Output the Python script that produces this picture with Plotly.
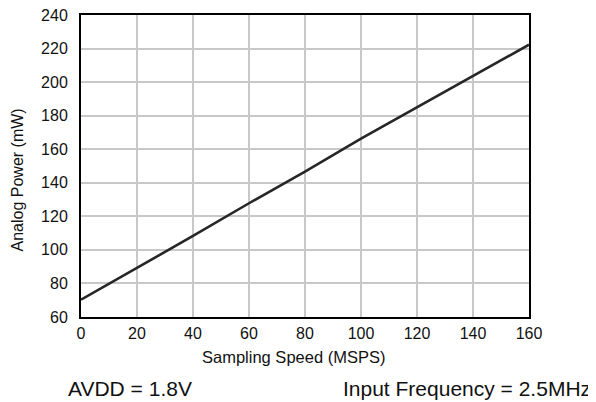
import plotly.graph_objects as go

speed_msps = [0, 20, 40, 60, 80, 100, 120, 140, 160]
power_mw = [70.3, 89.1, 108.3, 127.8, 146.6, 166.3, 185.0, 204.0, 222.3]

x_ticks = [0, 20, 40, 60, 80, 100, 120, 140, 160]
y_ticks = [60, 80, 100, 120, 140, 160, 180, 200, 220, 240]

FONT = "Liberation Sans, Arial, sans-serif"

# page body has an 8px margin; compensate so the plot lands where the reference has it
W, H = 588, 394
L, R, T, B = 73, 67, 7, 85
plot_w = W - L - R
plot_h = H - T - B
PX0, PY1 = 81, 317  # page coords of plot left / bottom


def px(xp):
    return (xp - PX0) / plot_w


def py(yp):
    return (PY1 - yp) / plot_h


fig = go.Figure()
fig.add_trace(go.Scatter(x=speed_msps, y=power_mw, mode="lines",
                         line=dict(color="#262626", width=2.6), showlegend=False,
                         cliponaxis=False))

fig.update_layout(
    width=W, height=H,
    margin=dict(l=L, r=R, t=T, b=B, autoexpand=False),
    paper_bgcolor="white", plot_bgcolor="white",
    font=dict(family=FONT, color="#111111"),
    xaxis=dict(range=[0, 160], tickvals=x_ticks, showgrid=True, automargin=False,
               gridcolor="#c8c8c8", gridwidth=1.5, showline=True, linecolor="black",
               linewidth=2, mirror=True, ticks="", zeroline=False,
               ticklabelstandoff=1, ticklabeloverflow="allow",
               tickfont=dict(size=16, family=FONT)),
    yaxis=dict(range=[60, 240], tickvals=y_ticks, showgrid=True, automargin=False,
               gridcolor="#c8c8c8", gridwidth=1.5, showline=True, linecolor="black",
               linewidth=2, mirror=True, ticks="", zeroline=False,
               ticklabelstandoff=8, ticklabeloverflow="allow",
               tickfont=dict(size=16, family=FONT)),
    annotations=[
        dict(text="Sampling Speed (MSPS)", xref="paper", yref="paper", x=px(293), y=py(357),
             xanchor="center", yanchor="middle", showarrow=False, font=dict(size=16.5, family=FONT)),
        dict(text="Analog Power (mW)", xref="paper", yref="paper", x=px(16.5), y=py(180),
             xanchor="center", yanchor="middle", showarrow=False, textangle=-90,
             font=dict(size=16, family=FONT)),
        dict(text="AVDD = 1.8V", xref="paper", yref="paper", x=px(130), y=py(388),
             xanchor="center", yanchor="middle", showarrow=False, font=dict(size=21, family=FONT)),
        dict(text="Input Frequency = 2.5MHz", xref="paper", yref="paper", x=px(467),
             y=py(388), xanchor="center", yanchor="middle", showarrow=False,
             font=dict(size=21, family=FONT)),
    ],
)

fig.write_html("out.html")
